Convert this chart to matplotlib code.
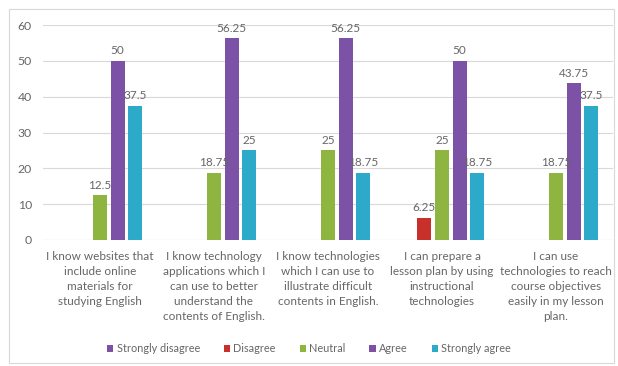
import matplotlib.pyplot as plt
import numpy as np
from matplotlib.patches import Rectangle

plt.rcParams['font.family'] = ['Lato', 'DejaVu Sans']

categories = [
    'I know websites that\ninclude online\nmaterials for\nstudying English',
    'I know technology\napplications which I\ncan use to better\nunderstand the\ncontents of English.',
    'I know technologies\nwhich I can use to\nillustrate difficult\ncontents in English.',
    'I can prepare a\nlesson plan by using\ninstructional\ntechnologies',
    'I can use\ntechnologies to reach\ncourse objectives\neasily in my lesson\nplan.',
]
series = ['Strongly disagree', 'Disagree', 'Neutral', 'Agree', 'Strongly agree']
strongly_disagree = [0, 0, 0, 0, 0]
disagree = [0, 0, 0, 6.25, 0]
neutral = [12.5, 18.75, 25, 25, 18.75]
agree = [50, 56.25, 56.25, 50, 43.75]
strongly_agree = [37.5, 25, 18.75, 18.75, 37.5]
values = [strongly_disagree, disagree, neutral, agree, strongly_agree]
colors = ['#7B52A6', '#C8302C', '#8DB540', '#7B52A6', '#2DAAC9']

TXT = '#666666'

fig = plt.figure(figsize=(6.18, 3.66), dpi=100)
ax = fig.add_axes([43 / 618, 1 - 240 / 366, 570 / 618, 215 / 366])

x = np.arange(len(categories))
step = 0.154
width = 0.123
for i, (name, vals, c) in enumerate(zip(series, values, colors)):
    pos = x + (i - 2) * step
    bars = ax.bar(pos, vals, width, color=c, label=name, zorder=3)
    for b, v in zip(bars, vals):
        if v:
            ax.text(b.get_x() + b.get_width() / 2, v + 1.3, f'{v:g}',
                    ha='center', va='bottom', fontsize=8.5, color=TXT, zorder=4)

ax.set_xlim(-0.5, len(categories) - 0.5)
ax.set_ylim(0, 60)
ax.set_yticks(range(0, 61, 10))
ax.yaxis.grid(True, color='#D9D9D9', linewidth=0.8, zorder=0)
ax.set_xticks(x)
ax.set_xticklabels(categories, fontsize=8.5, color=TXT, linespacing=1.45)
ax.tick_params(axis='y', labelsize=8.8, labelcolor=TXT, length=0, pad=8)
ax.tick_params(axis='x', length=0, pad=8)
for s in ax.spines.values():
    s.set_visible(False)
ax.axhline(0, color='#D9D9D9', linewidth=0.8, zorder=2)

fig.legend(loc='center', bbox_to_anchor=(0.5, 1 - 349 / 366), ncol=5,
           frameon=False, fontsize=7.8, handlelength=0.6, handleheight=0.6,
           handletextpad=0.3, columnspacing=2.2, labelcolor=TXT)

fig.patches.append(Rectangle((9 / 618, 1 - 363 / 366), 605 / 618, 354 / 366,
                             transform=fig.transFigure, fill=False,
                             edgecolor='#D9D9D9', linewidth=0.8))

fig.savefig('out.png', dpi=100)
